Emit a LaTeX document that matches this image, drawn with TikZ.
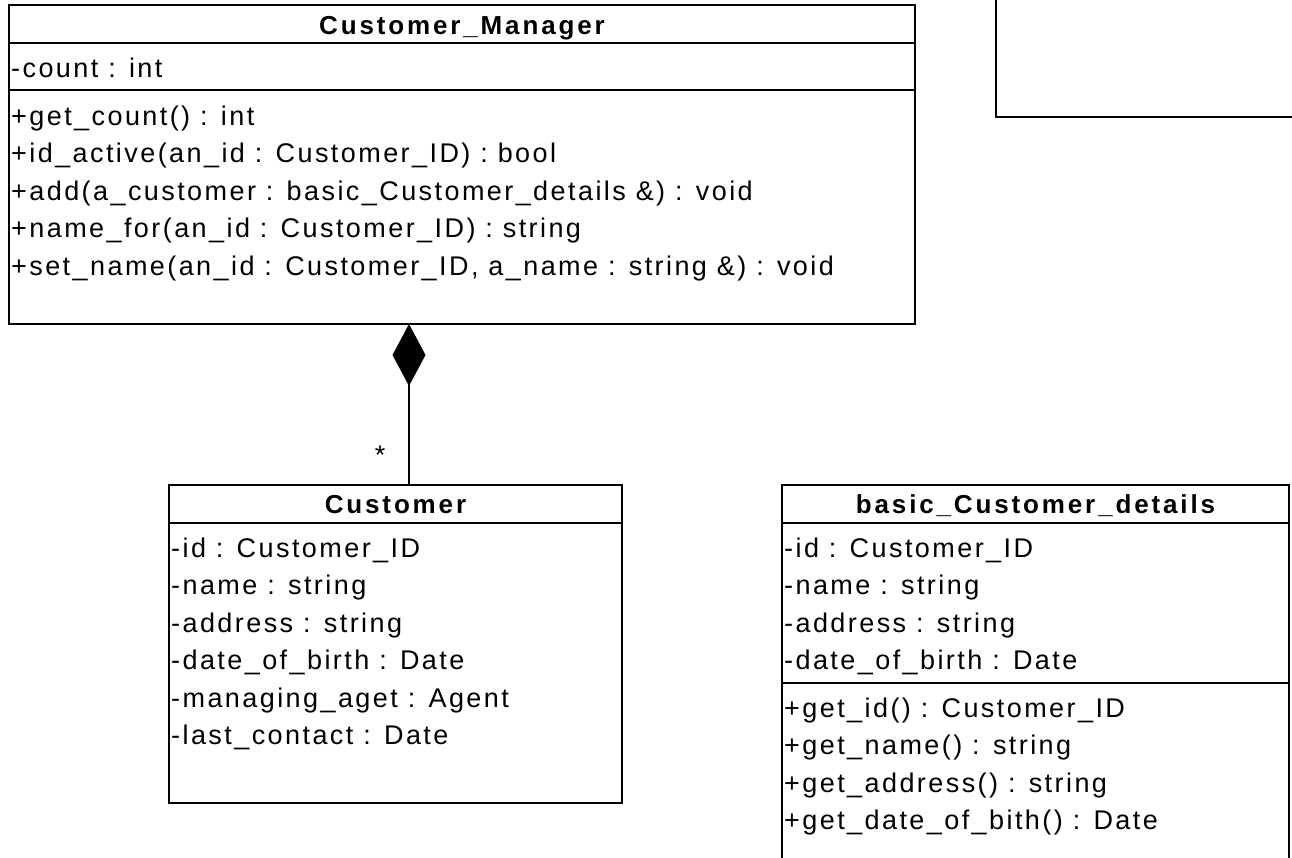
\documentclass[tikz,border=0pt]{standalone}
\usepackage{fontspec}
\setmainfont{Liberation Sans}[LetterSpace=9]
\newfontfamily\titlefont{Liberation Sans Bold}[LetterSpace=11]
\usetikzlibrary{arrows.meta}
\begin{document}
\begin{tikzpicture}[x=1pt,y=-1pt,
  box/.style={draw, line width=2.2pt, anchor=north west, inner sep=0pt, outer sep=0pt},
  sepline/.style={line width=2.2pt},
  member/.style={anchor=base west, inner sep=0pt, font=\fontsize{27}{30}\selectfont},
  title/.style={anchor=base, inner sep=0pt, font=\titlefont\fontsize{26}{28}\selectfont},
  comp/.style={line width=2.2pt, -{Diamond[length=62pt,width=33pt]}}]
\useasboundingbox (0,0) rectangle (1292,857);
\clip (0,0) rectangle (1292,857);

% Customer_Manager
\node[box, minimum width=906pt, minimum height=319pt] (cm) at (9,5) {};
\draw[sepline] (cm.west |- 0,43) -- (cm.east |- 0,43);
\draw[sepline] (cm.west |- 0,90) -- (cm.east |- 0,90);
\node[title] (cmt) at (462,34) {Customer\_Manager};
\node[member] (cm1) at (11,77) {-count : int};
\node[member] (cm2) at (11,125) {+get\_count() : int};
\node[member] (cm3) at (11,162.5) {+id\_active(an\_id : Customer\_ID) : bool};
\node[member] (cm4) at (11,200) {+add(a\_customer : basic\_Customer\_details \&) : void};
\node[member] (cm5) at (11,237.5) {+name\_for(an\_id : Customer\_ID) : string};
\node[member] (cm6) at (11,275) {+set\_name(an\_id : Customer\_ID, a\_name : string \&) : void};

% top right partial box
\node[box, minimum width=400pt, minimum height=160pt, anchor=south west] (tr) at (996,117) {};

% Customer
\node[box, minimum width=453pt, minimum height=318pt] (cu) at (169,485) {};
\draw[sepline] (cu.west |- 0,523) -- (cu.east |- 0,523);
\node[title] (cut) at (395.5,513) {Customer};
\node[member] (cu1) at (171,557) {-id : Customer\_ID};
\node[member] (cu2) at (171,594.5) {-name : string};
\node[member] (cu3) at (171,632) {-address : string};
\node[member] (cu4) at (171,669.5) {-date\_of\_birth : Date};
\node[member] (cu5) at (171,707) {-managing\_aget : Agent};
\node[member] (cu6) at (171,744.5) {-last\_contact : Date};

% basic_Customer_details
\node[box, minimum width=507pt, minimum height=450pt] (bc) at (782,485) {};
\draw[sepline] (bc.west |- 0,523) -- (bc.east |- 0,523);
\draw[sepline] (bc.west |- 0,683) -- (bc.east |- 0,683);
\node[title] (bct) at (1035.5,513) {basic\_Customer\_details};
\node[member] (bc1) at (784,557) {-id : Customer\_ID};
\node[member] (bc2) at (784,594.5) {-name : string};
\node[member] (bc3) at (784,632) {-address : string};
\node[member] (bc4) at (784,669.5) {-date\_of\_birth : Date};
\node[member] (bc5) at (784,717) {+get\_id() : Customer\_ID};
\node[member] (bc6) at (784,754.5) {+get\_name() : string};
\node[member] (bc7) at (784,792) {+get\_address() : string};
\node[member] (bc8) at (784,829.5) {+get\_date\_of\_bith() : Date};

% composition
\coordinate (dx) at (409,0);
\draw[comp] (cu.north -| dx) -- (cm.south -| dx);
\node[inner sep=0pt, font=\fontsize{27}{30}\selectfont] (mult) at (380,455) {*};
\end{tikzpicture}
\end{document}
